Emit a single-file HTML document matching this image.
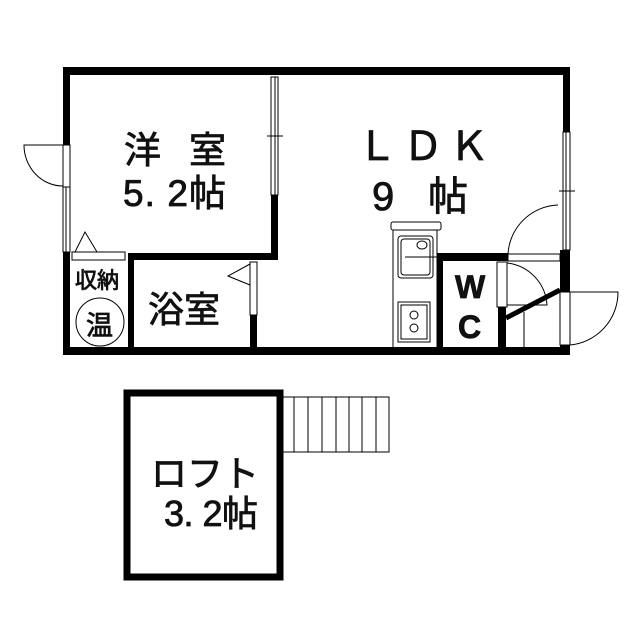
<!DOCTYPE html>
<html><head><meta charset="utf-8"><style>
body{margin:0;background:#fff;}
svg{display:block}
text{font-family:"Liberation Sans","Noto Sans CJK JP",sans-serif;fill:#111;stroke:#111;stroke-width:0.8}
</style></head><body>
<svg width="640" height="640" viewBox="0 0 640 640" xmlns="http://www.w3.org/2000/svg">
<g fill="#000">
<rect x="63" y="67" width="507" height="8"/>
<rect x="63" y="347" width="507" height="8"/>
<rect x="63" y="67" width="7" height="78"/>
<rect x="63" y="252" width="7" height="103"/>
<rect x="563" y="67" width="7" height="65"/>
<rect x="560" y="250" width="10" height="42"/>
<rect x="560" y="345" width="10" height="10"/>
<rect x="271" y="195" width="7" height="65"/>
<rect x="128" y="253" width="150" height="7"/>
<rect x="128" y="253" width="6" height="100"/>
<rect x="250" y="315" width="7" height="38"/>
<rect x="437" y="253" width="71" height="8"/>
<rect x="437" y="253" width="6" height="100"/>
<rect x="498" y="307" width="8" height="46"/>
<rect x="127" y="393" width="153" height="184" fill="none" stroke="#000" stroke-width="7"/>
</g>
<g fill="none" stroke="#000" stroke-width="1">
<rect x="63" y="145" width="7" height="42"/>
<path d="M63 145 L24 145 A39 41 0 0 0 63 186"/>
<rect x="63" y="187" width="7" height="65"/>
<line x1="66" y1="187" x2="66" y2="252"/>
<rect x="271" y="77" width="7" height="118"/>
<line x1="275" y1="77" x2="275" y2="195"/>
<line x1="267" y1="136" x2="283" y2="136"/>
<rect x="72" y="252" width="53" height="8"/>
<path d="M75 252 L85 232 L97 252"/>
<circle cx="100" cy="322" r="24"/>
<rect x="250" y="262" width="7" height="53"/>
<path d="M250 264 L228 276 L250 285"/>
<rect x="563" y="132" width="7" height="118"/>
<line x1="566" y1="132" x2="566" y2="250"/>
<line x1="559" y1="191" x2="575" y2="191"/>
<path d="M508 254 A52 52 0 0 1 558 205"/>
<rect x="508" y="254" width="52" height="7"/>
<rect x="497" y="262" width="10" height="45"/>
<path d="M507 263 A45 45 0 0 1 547 305 L507 305"/>
<line x1="524" y1="312" x2="524" y2="347"/>
<rect x="560" y="292" width="10" height="53"/>
<path d="M570 292 L618 292 A53 53 0 0 1 570 345"/>
<rect x="393" y="230" width="44" height="120"/>
<rect x="391" y="222" width="50" height="8" rx="2"/>
<rect x="398" y="236" width="35" height="42" rx="3"/>
<rect x="401" y="239" width="29" height="36" rx="3"/>
<ellipse cx="422" cy="245" rx="5" ry="4"/>
<line x1="405" y1="257" x2="437" y2="257"/>
<rect x="398" y="302" width="32" height="40"/>
<rect x="401" y="305" width="26" height="34"/>
<circle cx="414" cy="315" r="4"/>
<circle cx="414" cy="328" r="4"/>
<rect x="280" y="397" width="109" height="55"/>
<line x1="294" y1="397" x2="294" y2="452"/>
<line x1="308" y1="397" x2="308" y2="452"/>
<line x1="322" y1="397" x2="322" y2="452"/>
<line x1="336" y1="397" x2="336" y2="452"/>
<line x1="349" y1="397" x2="349" y2="452"/>
<line x1="362" y1="397" x2="362" y2="452"/>
<line x1="376" y1="397" x2="376" y2="452"/>
</g>
<line x1="506" y1="318" x2="560" y2="290" stroke="#000" stroke-width="5"/>
<text x="124" y="163" font-size="37">洋</text>
<text x="189" y="163" font-size="37">室</text>
<text x="123" y="206" font-size="37" textLength="103">5. 2帖</text>
<text x="357" y="160" font-size="40" textLength="132">ＬＤＫ</text>
<text x="372" y="210" font-size="40" textLength="96">9 帖</text>
<text x="148" y="322" font-size="36">浴室</text>
<text x="75" y="288" font-size="22">収納</text>
<text x="86" y="335" font-size="27" stroke-width="1">温</text>
<text x="455" y="298" font-size="32" font-weight="bold">W</text>
<text x="458" y="338" font-size="32" font-weight="bold">C</text>
<text x="151" y="486" font-size="36">ロフト</text>
<text x="164" y="526" font-size="36" textLength="94">3. 2帖</text>
</svg>
</body></html>
